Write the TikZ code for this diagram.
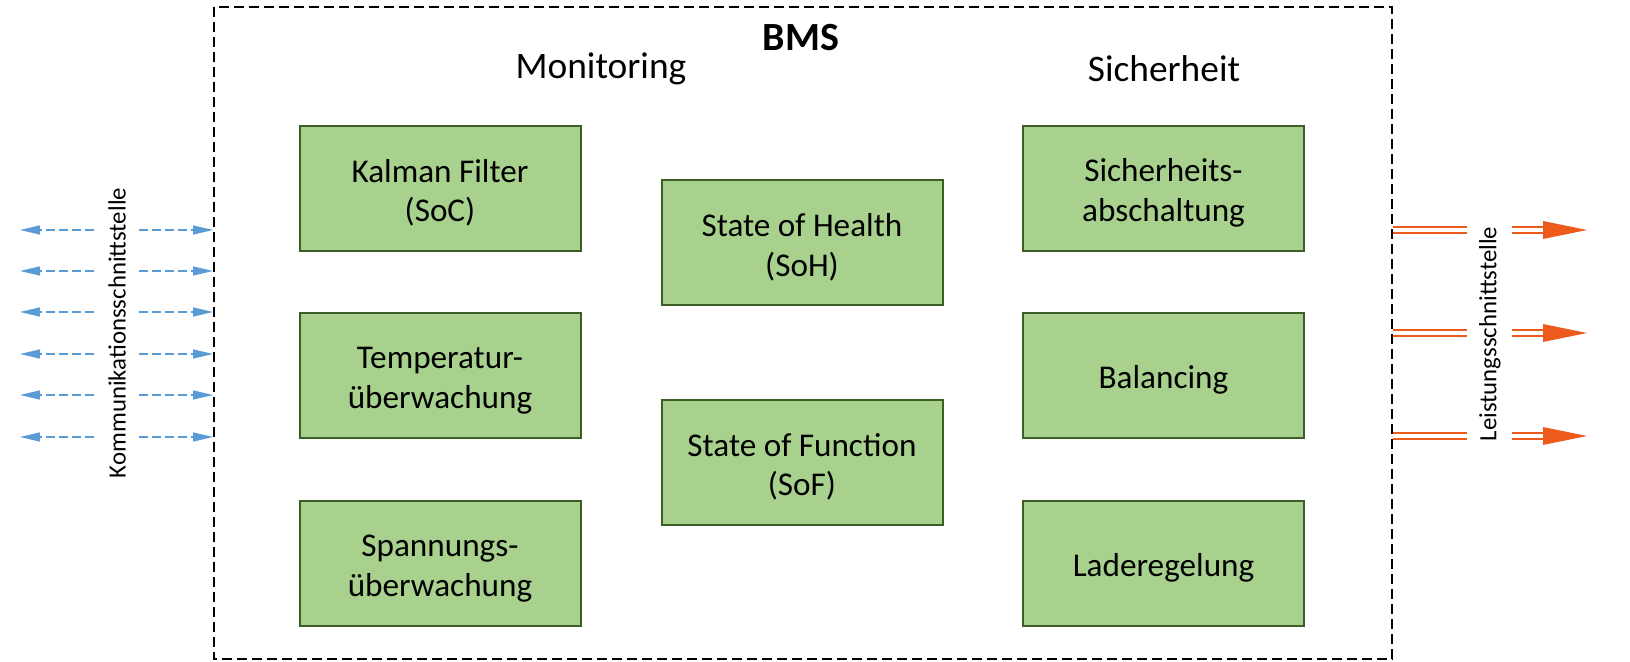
\documentclass[tikz,border=0pt]{standalone}
\usepackage{fontspec}
\setmainfont{Carlito}
\usetikzlibrary{arrows.meta}
\definecolor{boxfill}{HTML}{A9D18E}
\definecolor{boxline}{HTML}{3D5E27}
\definecolor{comblue}{HTML}{5B9BD5}
\definecolor{powor}{HTML}{EC5B1B}
\newcommand{\topstrut}{\rule{0pt}{16pt}}
\tikzset{
  fbox/.style={draw=boxline, line width=1pt, fill=boxfill, minimum width=140.5pt, minimum height=62.5pt, align=center, font=\fontsize{16.6}{19.75}\selectfont, inner sep=0pt},
  title/.style={font=\fontsize{18.7}{22}\selectfont},
  comarrow/.style={draw=comblue, line width=0.65pt, dash pattern=on 4.5pt off 2pt, -{Triangle[length=10pt,width=4.5pt]}},
  powline/.style={draw=powor, line width=1.35pt, double=white, double distance=1.65pt},
  sidelabel/.style={rotate=90, font=\fontsize{12.4}{14}\selectfont, inner sep=0pt}
}
\begin{document}
\begin{tikzpicture}[x=0.5pt,y=-0.5pt]
\useasboundingbox (0,0) rectangle (1630,662);
\draw[line width=1pt, dash pattern=on 5pt off 2.5pt] (214,7) rectangle (1392,659);
\node[font=\bfseries\fontsize{20}{24}\selectfont] (bms) at (801,38) {BMS};
\node[title] (mon) at (601,69) {Monitoring};
\node[title] (sich) at (1164,69) {Sicherheit};

\node[fbox] (kal) at (440,188.5) {\topstrut Kalman Filter\\(SoC)};
\node[fbox] (temp) at (440,375.5) {\topstrut Temperatur-\\überwachung};
\node[fbox] (span) at (440,563.5) {\topstrut Spannungs-\\überwachung};
\node[fbox] (soh) at (802,243) {\topstrut State of Health\\(SoH)};
\node[fbox] (sof) at (802,462.5) {\topstrut State of Function\\(SoF)};
\node[fbox] (sa) at (1163.5,188.5) {\topstrut Sicherheits-\\abschaltung};
\node[fbox] (bal) at (1163.5,375.5) {\topstrut Balancing};
\node[fbox] (lade) at (1163.5,563.5) {\topstrut Laderegelung};

\node[sidelabel] (komm) at (117,333) {Kommunikationsschnittstelle};
\foreach \i/\y in {1/230,2/271,3/312,4/354,5/395,6/437}{
  \coordinate (cl\i) at (20,\y);
  \coordinate (cm\i) at (94,\y);
  \coordinate (cn\i) at (139,\y);
  \coordinate (cr\i) at (213,\y);
  \draw[comarrow] (cm\i) -- (cl\i);
  \draw[comarrow] (cn\i) -- (cr\i);
}

\node[sidelabel] (leist) at (1490,334) {Leistungsschnittstelle};
\foreach \i/\y in {1/230,2/333,3/436}{
  \coordinate (pa\i) at (1393,\y);
  \coordinate (pb\i) at (1467,\y);
  \coordinate (pc\i) at (1512,\y);
  \coordinate (pd\i) at (1543,\y);
  \coordinate (pe\i) at (1587,\y);
  \draw[powline] (pa\i) -- (pb\i);
  \draw[powline] (pc\i) -- (pd\i);
  \fill[powor] ([yshift=4.5pt]pd\i) -- (pe\i) -- ([yshift=-4.5pt]pd\i) -- cycle;
}
\end{tikzpicture}
\end{document}
